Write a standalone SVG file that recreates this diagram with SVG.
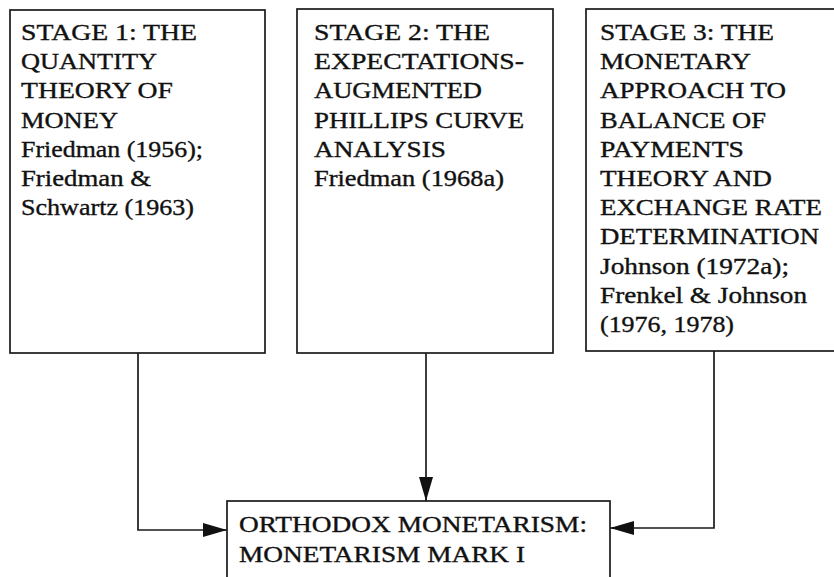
<svg xmlns="http://www.w3.org/2000/svg" width="834" height="577" viewBox="0 0 834 577">
<style>
.box{fill:#fff;stroke:#1a1a1a;stroke-width:1.7}
.t{font-family:"Liberation Serif","Times New Roman",serif;font-size:23px;fill:#111;stroke:#111;stroke-width:0.35}
.c{fill:none;stroke:#1a1a1a;stroke-width:1.7}
</style>
<defs>
<marker id="ah" viewBox="0 0 24 14" refX="24" refY="7" markerWidth="24" markerHeight="14" markerUnits="userSpaceOnUse" orient="auto">
<path d="M0,0 L24,7 L0,14 Z" fill="#111"/>
</marker>
</defs>
<rect width="834" height="577" fill="#fff"/>
<g id="stage1">
<rect class="box" x="10" y="10" width="255" height="343"/>
<text class="t" x="21" y="40" textLength="176" lengthAdjust="spacingAndGlyphs">STAGE 1: THE</text>
<text class="t" x="21" y="69.2" textLength="136" lengthAdjust="spacingAndGlyphs">QUANTITY</text>
<text class="t" x="21" y="98.4" textLength="152" lengthAdjust="spacingAndGlyphs">THEORY OF</text>
<text class="t" x="21" y="127.6" textLength="97" lengthAdjust="spacingAndGlyphs">MONEY</text>
<text class="t" x="21" y="156.8" textLength="182" lengthAdjust="spacingAndGlyphs">Friedman (1956);</text>
<text class="t" x="21" y="186" textLength="130" lengthAdjust="spacingAndGlyphs">Friedman &amp;</text>
<text class="t" x="21" y="215.2" textLength="173" lengthAdjust="spacingAndGlyphs">Schwartz (1963)</text>
</g>
<g id="stage2">
<rect class="box" x="297" y="9" width="256" height="344"/>
<text class="t" x="314" y="40" textLength="176" lengthAdjust="spacingAndGlyphs">STAGE 2: THE</text>
<text class="t" x="314" y="69.2" textLength="210" lengthAdjust="spacingAndGlyphs">EXPECTATIONS-</text>
<text class="t" x="314" y="98.4" textLength="168" lengthAdjust="spacingAndGlyphs">AUGMENTED</text>
<text class="t" x="314" y="127.6" textLength="210" lengthAdjust="spacingAndGlyphs">PHILLIPS CURVE</text>
<text class="t" x="314" y="156.8" textLength="132" lengthAdjust="spacingAndGlyphs">ANALYSIS</text>
<text class="t" x="314" y="186" textLength="190" lengthAdjust="spacingAndGlyphs">Friedman (1968a)</text>
</g>
<g id="stage3">
<rect class="box" x="586" y="9" width="260" height="342"/>
<text class="t" x="600" y="40" textLength="174" lengthAdjust="spacingAndGlyphs">STAGE 3: THE</text>
<text class="t" x="600" y="69.2" textLength="151" lengthAdjust="spacingAndGlyphs">MONETARY</text>
<text class="t" x="600" y="98.4" textLength="186" lengthAdjust="spacingAndGlyphs">APPROACH TO</text>
<text class="t" x="600" y="127.6" textLength="166" lengthAdjust="spacingAndGlyphs">BALANCE OF</text>
<text class="t" x="600" y="156.8" textLength="144" lengthAdjust="spacingAndGlyphs">PAYMENTS</text>
<text class="t" x="600" y="186" textLength="172" lengthAdjust="spacingAndGlyphs">THEORY AND</text>
<text class="t" x="600" y="215.2" textLength="222" lengthAdjust="spacingAndGlyphs">EXCHANGE RATE</text>
<text class="t" x="600" y="244.4" textLength="219" lengthAdjust="spacingAndGlyphs">DETERMINATION</text>
<text class="t" x="600" y="273.6" textLength="189" lengthAdjust="spacingAndGlyphs">Johnson (1972a);</text>
<text class="t" x="600" y="302.8" textLength="207" lengthAdjust="spacingAndGlyphs">Frenkel &amp; Johnson</text>
<text class="t" x="600" y="332" textLength="134" lengthAdjust="spacingAndGlyphs">(1976, 1978)</text>
</g>
<g id="orthodox">
<rect class="box" x="227" y="501" width="383" height="90"/>
<text class="t" x="239" y="532" textLength="348" lengthAdjust="spacingAndGlyphs">ORTHODOX MONETARISM:</text>
<text class="t" x="239" y="562" textLength="286" lengthAdjust="spacingAndGlyphs">MONETARISM MARK I</text>
</g>
<g id="connectors">
<path class="c" d="M138,353 V530 H227" marker-end="url(#ah)"/>
<path class="c" d="M426,353 V501" marker-end="url(#ah)"/>
<path class="c" d="M714,351 V528 H610" marker-end="url(#ah)"/>
</g>
</svg>
